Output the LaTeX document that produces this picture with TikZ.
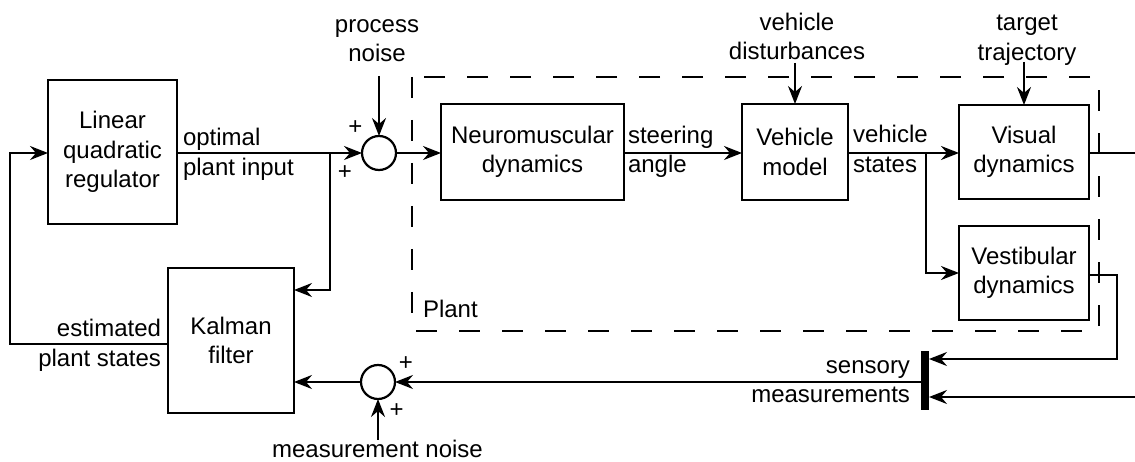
\documentclass[tikz,border=0pt]{standalone}
\usepackage{fontspec}
\setmainfont{Liberation Sans}
\usetikzlibrary{arrows.meta,calc}
\begin{document}
\begin{tikzpicture}[x=1pt,y=-1pt,
  every node/.style={font=\fontsize{24}{29.5}\selectfont, inner sep=0pt, outer sep=0pt},
  blk/.style={draw, line width=2pt, align=center},
  sumc/.style={draw, circle, line width=2.2pt, minimum size=34pt},
  lbl/.style={align=left},
  lblr/.style={align=right},
  lblc/.style={align=center},
  sig/.style={line width=2pt, -{Stealth[length=18pt,width=14pt,inset=6pt]}},
  ln/.style={line width=2pt},
  plant/.style={line width=2pt, dash pattern=on 21pt off 22pt}
]
\useasboundingbox (0,0) rectangle (1135,462);

% plant boundary
\draw[plant] (412,77) rectangle (1099,331);
\node[anchor=base west] (plt) at (423,318) {Plant};

% blocks
\node[blk, minimum width=129pt, minimum height=144pt] (lqr) at (112.5,152) {Linear\\quadratic\\regulator};
\node[blk, minimum width=126pt, minimum height=145pt] (kal) at (231,340.5) {Kalman\\filter};
\node[blk, minimum width=183pt, minimum height=96pt] (neu) at (532.5,152) {Neuromuscular\\dynamics};
\node[blk, minimum width=106pt, minimum height=96pt] (vm) at (795,152) {Vehicle\\model};
\node[blk, minimum width=130pt, minimum height=94pt] (vis) at (1024,152) {Visual\\dynamics};
\node[blk, minimum width=130pt, minimum height=94pt] (vest) at (1024,273) {Vestibular\\dynamics};

% summing junctions
\node[sumc] (s1) at (379,153) {};
\node[sumc] (s2) at (378,382) {};
\node (p1) at (355.5,127.7) {+};
\node (p2) at (345,172.7) {+};
\node (p3) at (406,363.3) {+};
\node (p4) at (396.7,410.7) {+};

% sensor bar
\node[fill, minimum width=8pt, minimum height=59pt] (bar) at (925,380.5) {};

% external labels
\node[lblc, anchor=south] (pn) at (377,62) {process\\noise};
\node[lblc, anchor=south] (vd) at (797,60) {vehicle\\disturbances};
\node[lblc, anchor=south] (tt) at (1027,65) {target\\trajectory};
\node[anchor=base] (mn) at (377.5,457) {measurement noise};

% signal labels
\node[lbl, anchor=north west] (l1) at (183,128.5) {optimal\\plant input};
\node[lbl, anchor=north west] (l2) at (628,126) {steering\\angle};
\node[lbl, anchor=north west] (l3) at (853,125.5) {vehicle\\states};
\node[lblr, anchor=north east] (l4) at (161,319.5) {estimated\\plant states};
\node[lblr, anchor=north east] (l5) at (910,360.5) {sensory\\measurements};

% coordinates
\coordinate (br1) at (330,153);
\coordinate (br2) at (926,153);
\coordinate (fb) at (10,153);
\coordinate (c1) at (1117,359);
\coordinate (out1) at (1135,153);
\coordinate (in2) at (1135,397);

% connectors
\draw[sig] (lqr.east |- s1.west) -- (s1.west);
\draw[sig] (br1) |- ([yshift=-22pt]kal.north east);
\draw[sig] ([yshift=-14pt]pn.south -| s1.north) -- (s1.north);
\draw[sig] (s1.east) -- (neu.west |- s1.east);
\draw[sig] (neu.east |- s1) -- (vm.west |- s1);
\draw[sig] ([yshift=-3pt]vd.south -| vm.north) -- (vm.north);
\draw[sig] (vm.east |- s1) -- (vis.west |- s1);
\draw[sig] (br2) |- (vest.west);
\draw[sig] ([yshift=3pt]tt.south -| vis.north) -- (vis.north);
\draw[ln] (vis.east |- out1) -- (out1);
\draw[sig] ([yshift=-2pt]vest.east) -| (c1) -- (bar.east |- c1);
\draw[sig] (in2) -- (bar.east |- in2);
\draw[sig] (bar.west |- s2.east) -- (s2.east);
\draw[sig] (mn.north -| s2.south) -- (s2.south);
\draw[sig] (s2.west) -- (kal.east |- s2.west);
\draw[sig] ([yshift=-76pt]kal.north west) -| (fb) -- (lqr.west |- fb);
\end{tikzpicture}
\end{document}
